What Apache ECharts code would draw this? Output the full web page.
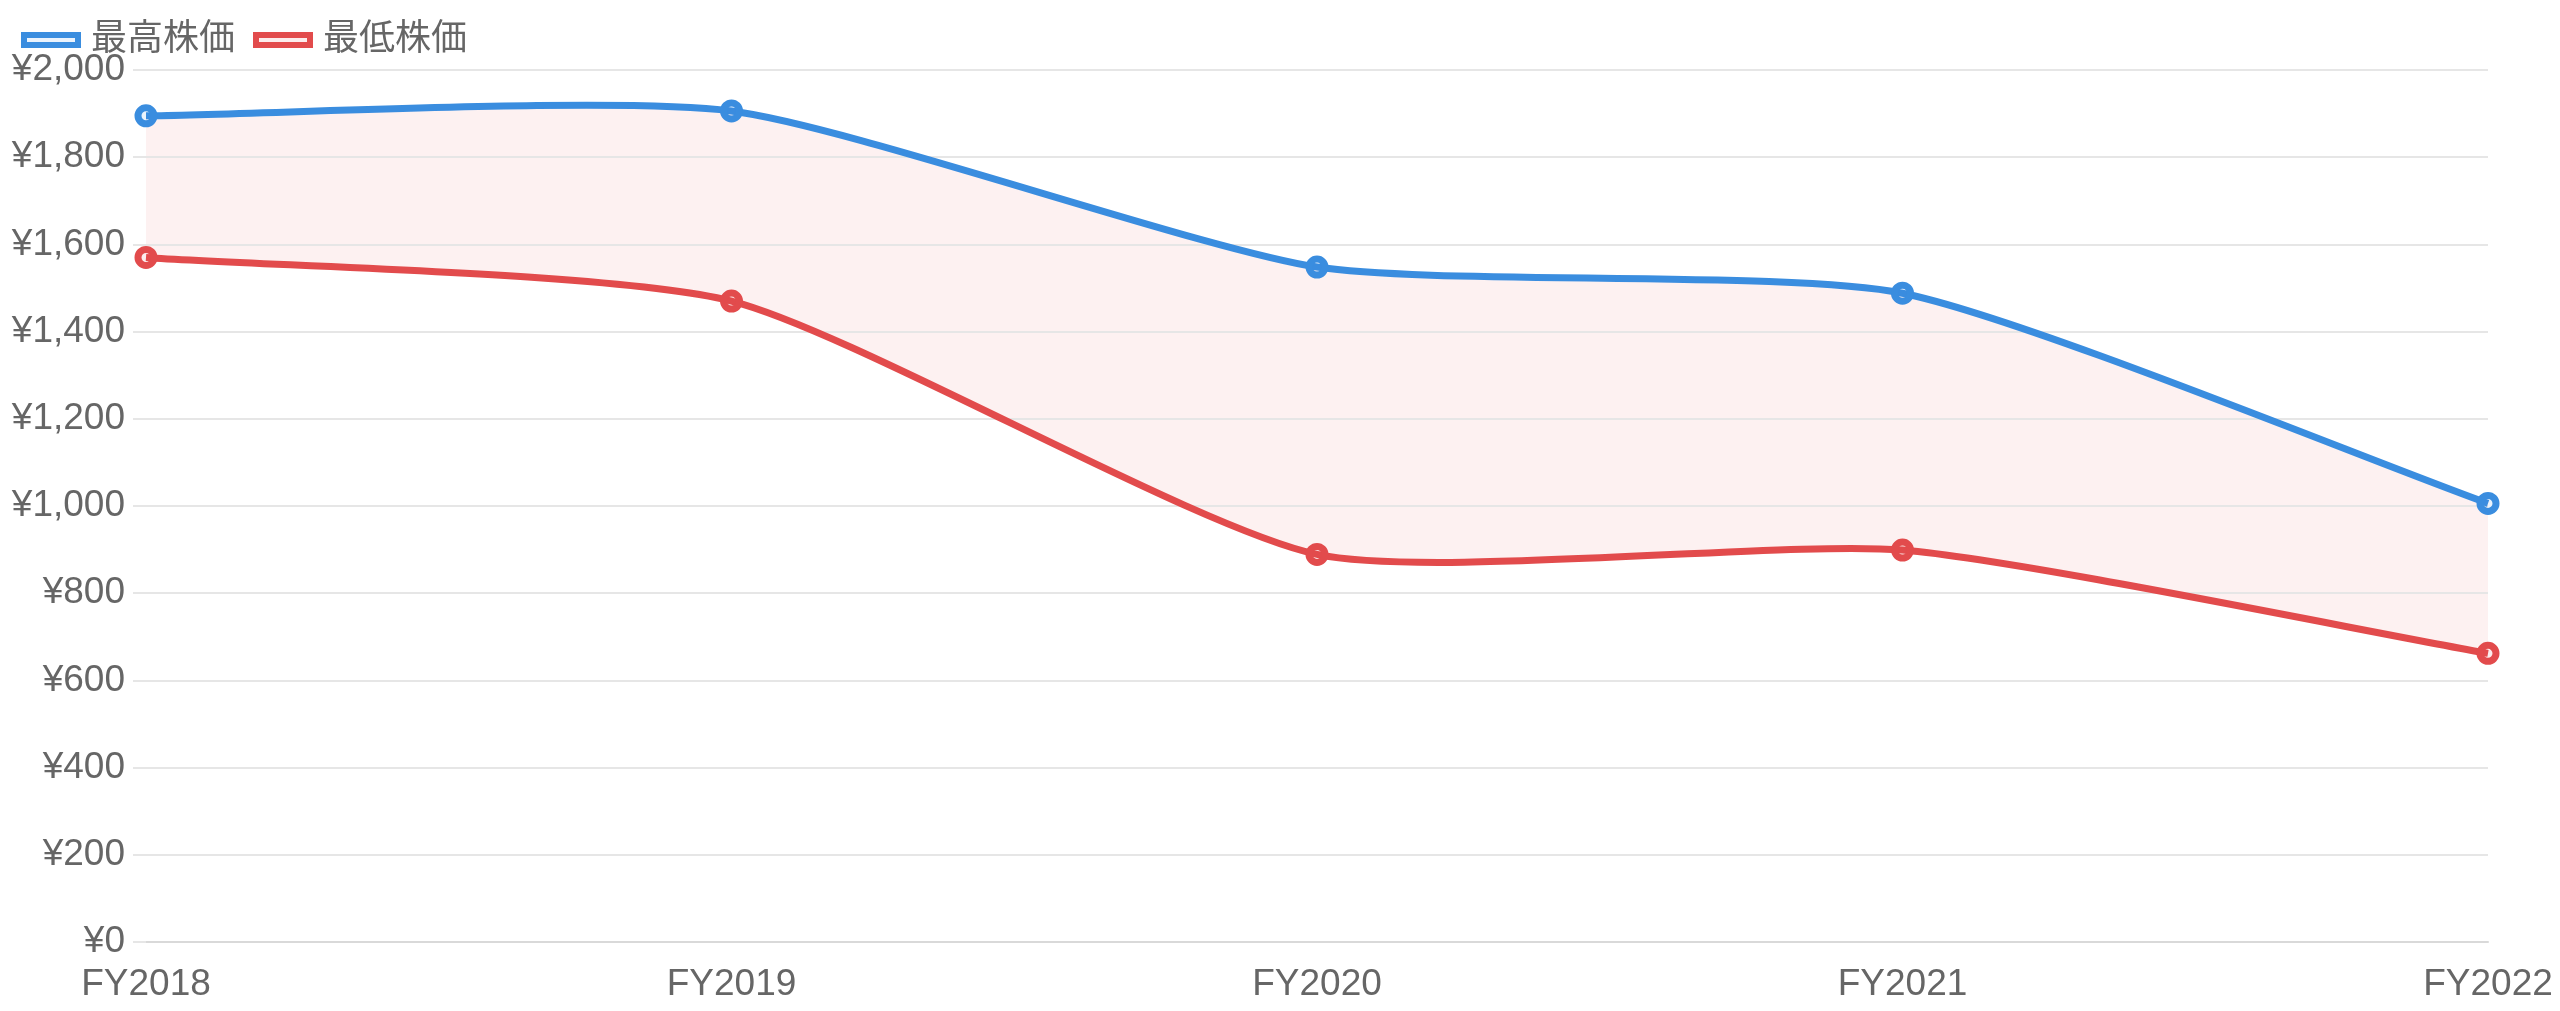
<!DOCTYPE html>
<html>
<head>
<meta charset="utf-8">
<title>株価推移</title>
<script src="https://cdn.jsdelivr.net/npm/echarts@6/dist/echarts.min.js"></script>
<style>
  html, body { margin: 0; padding: 0; background: #fff; }
  #chart { width: 2560px; height: 1011px; }
</style>
</head>
<body>
<div id="chart"></div>
<script>
// データ
const years = ['FY2018', 'FY2019', 'FY2020', 'FY2021', 'FY2022']
const highPrices = [1895, 1906, 1548, 1488, 1006]
const lowPrices = [1570, 1470, 889, 899, 662]
const yTicks = [0, 200, 400, 600, 800, 1000, 1200, 1400, 1600, 1800, 2000]

// 色
const colors = {
  blue: '#3a8ddf',
  blueFill: 'rgba(58,141,223,0.1)',
  red: '#e24b4c',
  redFill: 'rgba(226,75,76,0.1)',
  band: 'rgba(226,75,76,0.08)',
  text: '#666',
  grid: '#e6e6e6'
}
const font = "'Liberation Sans', 'Noto Sans CJK JP', sans-serif"
const TENSION = 0.2

const chart = echarts.init(document.getElementById('chart'))

// カーディナルスプライン（端点でも値を潰さない）の制御点
const splinePath = (pts) => {
  const cps = pts.map((cur, i) => {
    const prev = pts[i - 1] || cur
    const next = pts[i + 1] || cur
    const d01 = Math.hypot(cur[0] - prev[0], cur[1] - prev[1])
    const d12 = Math.hypot(next[0] - cur[0], next[1] - cur[1])
    const s01 = d01 / (d01 + d12) || 0
    const s12 = d12 / (d01 + d12) || 0
    const dx = next[0] - prev[0]
    const dy = next[1] - prev[1]
    return {
      before: [cur[0] - TENSION * s01 * dx, cur[1] - TENSION * s01 * dy],
      after: [cur[0] + TENSION * s12 * dx, cur[1] + TENSION * s12 * dy]
    }
  })
  const segs = []
  for (let i = 0; i < pts.length - 1; i++) {
    segs.push({ p0: pts[i], c1: cps[i].after, c2: cps[i + 1].before, p1: pts[i + 1] })
  }
  return segs
}

const pointsOf = (api, dim) => {
  const pts = []
  for (let i = 0; i < years.length; i++) pts.push(api.coord([i, api.value(dim, i)]))
  return pts
}

const curveD = (segs) => segs.map(s => `C ${s.c1[0]} ${s.c1[1]} ${s.c2[0]} ${s.c2[1]} ${s.p1[0]} ${s.p1[1]}`).join(' ')

const reverseSegs = (segs) => segs.slice().reverse().map(s => ({ p0: s.p1, c1: s.c2, c2: s.c1, p1: s.p0 }))

// 描画用データ（インデックス, 最高, 最低）
const rows = years.map((y, i) => [i, highPrices[i], lowPrices[i]])

const bandSeries = {
  type: 'custom',
  name: 'band',
  z: 1,
  silent: true,
  data: rows,
  encode: { x: 0, y: [1, 2] },
  renderItem: (params, api) => {
    if (params.dataIndex !== 0) return null
    const top = splinePath(pointsOf(api, 1))
    const bottom = reverseSegs(splinePath(pointsOf(api, 2)))
    const d = `M ${top[0].p0[0]} ${top[0].p0[1]} ${curveD(top)} L ${bottom[0].p0[0]} ${bottom[0].p0[1]} ${curveD(bottom)} Z`
    return { type: 'path', shape: { pathData: d }, style: { fill: colors.band, stroke: null } }
  }
}

const curveSeries = (dim, color) => ({
  type: 'custom',
  name: 'curve' + dim,
  z: 4,
  silent: true,
  data: rows,
  encode: { x: 0, y: [1, 2] },
  renderItem: (params, api) => {
    if (params.dataIndex !== 0) return null
    const segs = splinePath(pointsOf(api, dim))
    const d = `M ${segs[0].p0[0]} ${segs[0].p0[1]} ${curveD(segs)}`
    return { type: 'path', shape: { pathData: d }, style: { fill: null, stroke: color, lineWidth: 7 } }
  }
})

// マーカー（凡例用の系列も兼ねる）
const markerSeries = (name, data, color, fill) => ({
  name,
  type: 'line',
  data,
  z: 5,
  symbol: 'circle',
  symbolSize: 16,
  lineStyle: { color, width: 0, opacity: 0 },
  itemStyle: { color: fill, borderColor: color, borderWidth: 7 },
  emphasis: { disabled: true }
})

const option = {
  backgroundColor: '#fff',
  animation: false,
  textStyle: { fontFamily: font },
  legend: {
    data: ['最高株価', '最低株価'],
    left: 16,
    top: 17,
    icon: 'rect',
    itemWidth: 54,
    itemHeight: 10,
    itemGap: 18,
    selectedMode: false,
    textStyle: { color: colors.text, fontSize: 36, fontFamily: font, padding: [0, 0, 0, 8] },
    itemStyle: { borderWidth: 6 }
  },
  grid: { left: 146, right: 72, top: 70, bottom: 69 },
  xAxis: {
    type: 'category',
    data: years,
    boundaryGap: false,
    z: 3,
    axisLine: { show: true, lineStyle: { color: '#d9d9d9', width: 2 } },
    axisTick: { show: false },
    axisLabel: { color: colors.text, fontSize: 37, fontFamily: font, margin: 24 },
    splitLine: { show: false }
  },
  yAxis: {
    type: 'value',
    min: yTicks[0],
    max: yTicks[yTicks.length - 1],
    interval: yTicks[1] - yTicks[0],
    z: 3,
    axisLine: { show: false },
    axisTick: { show: true, length: 13, lineStyle: { color: colors.grid, width: 2 } },
    axisLabel: {
      color: colors.text,
      fontSize: 37,
      fontFamily: font,
      margin: 21,
      formatter: v => '¥' + v.toLocaleString('en-US')
    },
    splitLine: { lineStyle: { color: colors.grid, width: 2 } }
  },
  series: [
    bandSeries,
    curveSeries(1, colors.blue),
    curveSeries(2, colors.red),
    markerSeries('最高株価', highPrices, colors.blue, colors.blueFill),
    markerSeries('最低株価', lowPrices, colors.red, colors.redFill)
  ]
}

chart.setOption(option)
</script>
</body>
</html>
